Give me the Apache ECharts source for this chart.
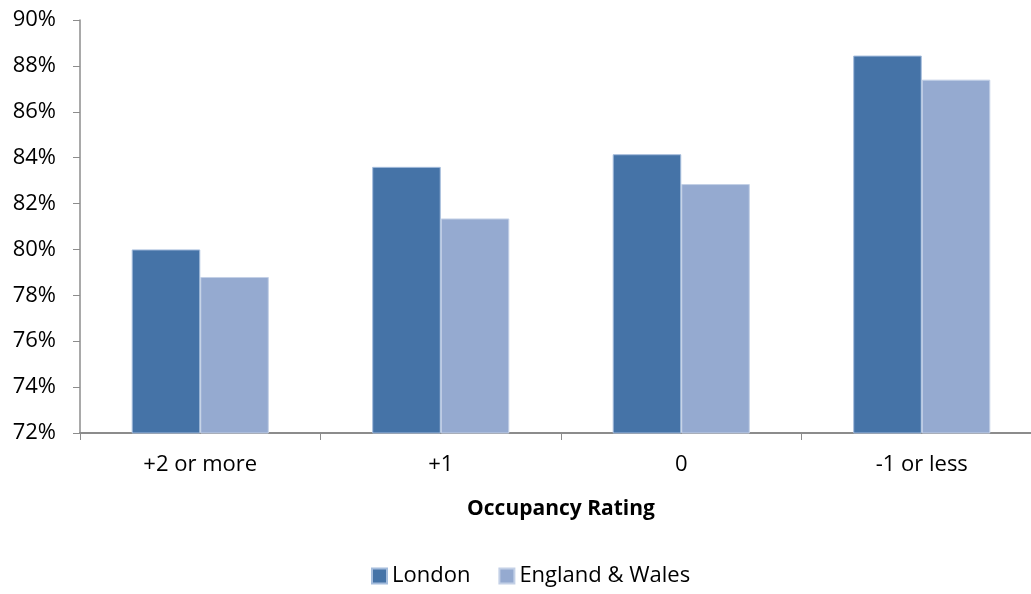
<!DOCTYPE html>
<html>
<head>
<meta charset="utf-8">
<script src="https://cdn.jsdelivr.net/npm/echarts@6/dist/echarts.min.js"></script>
<style>
  html, body { margin: 0; padding: 0; background: #ffffff; }
  #chart { width: 1031px; height: 594px; }
</style>
</head>
<body>
<div id="chart"></div>
<script>
// Share of residents (%) by occupancy rating
const categories = ['+2 or more', '+1', '0', '-1 or less'];
const london = [80.0, 83.6, 84.15, 88.45];
const englandWales = [78.8, 81.35, 82.85, 87.4];
const seriesNames = ['London', 'England & Wales'];
const axisTitle = 'Occupancy Rating';

const FONT = 'Open Sans';
const AXIS_GREY = '#8c8c8c';

const chart = echarts.init(document.getElementById('chart'), null, { renderer: 'canvas' });
chart.setOption({
  animation: false,
  backgroundColor: '#ffffff',
  textStyle: { fontFamily: FONT },
  // plot runs slightly past the right edge of the canvas
  grid: { left: 80, width: 962, top: 20, bottom: 161, containLabel: false, outerBoundsMode: 'none' },
  legend: {
    bottom: 2,
    left: 366,
    itemWidth: 15,
    itemHeight: 15,
    itemGap: 28,
    icon: 'rect',
    textStyle: { fontFamily: FONT, fontSize: 22, color: '#000' },
    data: seriesNames
  },
  xAxis: {
    type: 'category',
    data: categories,
    name: axisTitle,
    nameLocation: 'middle',
    nameGap: 66,
    nameTextStyle: { fontFamily: FONT, fontSize: 21, fontWeight: 'bold', color: '#000' },
    axisLine: { lineStyle: { color: AXIS_GREY, width: 2 } },
    axisTick: { show: true, alignWithLabel: false, length: 7, lineStyle: { color: AXIS_GREY, width: 1 } },
    axisLabel: { fontFamily: FONT, fontSize: 22, color: '#000', margin: 21 },
    splitLine: { show: false }
  },
  yAxis: {
    type: 'value',
    min: 72,
    max: 90,
    interval: 2,
    axisLine: { show: true, lineStyle: { color: AXIS_GREY, width: 1.5 } },
    axisTick: { show: true, length: 7, lineStyle: { color: AXIS_GREY, width: 1 } },
    axisLabel: { fontFamily: FONT, fontSize: 22, color: '#000', margin: 24, formatter: v => v + '%' },
    splitLine: { show: false }
  },
  series: [
    {
      name: seriesNames[0],
      type: 'bar',
      data: london,
      barGap: '0%',
      barCategoryGap: '43%',
      itemStyle: { color: '#4573a7', borderColor: '#a4bcdc', borderWidth: 1 }
    },
    {
      name: seriesNames[1],
      type: 'bar',
      data: englandWales,
      itemStyle: { color: '#95aad0', borderColor: '#c3d0e6', borderWidth: 1 }
    }
  ]
});
</script>
</body>
</html>
